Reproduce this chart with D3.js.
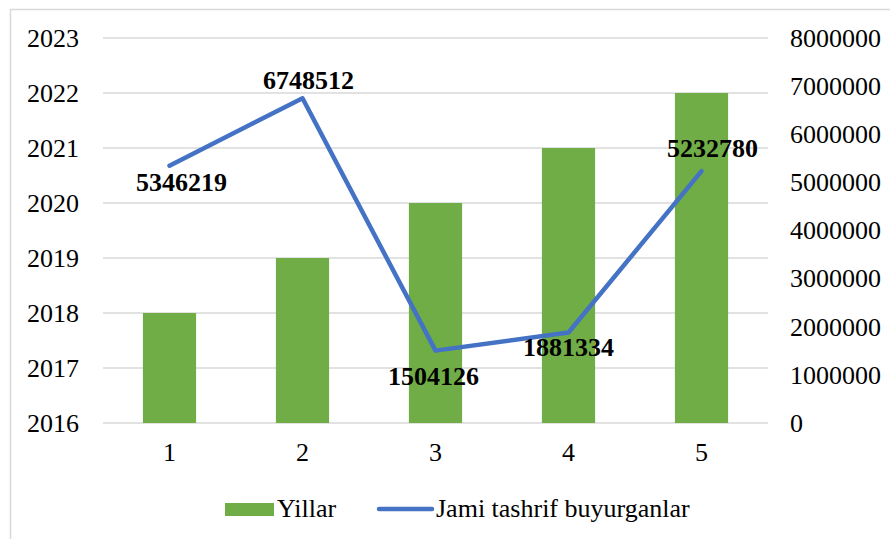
<!doctype html>
<html lang="en">
<head>
    <meta charset="UTF-8">
    <title>Yillar va tashrif buyurganlar</title>
    <script src="https://cdnjs.cloudflare.com/ajax/libs/d3/7.8.5/d3.min.js"></script>
    <style>
        body { margin: 0; background: #fff; }
        text { font-family: "Liberation Serif", "Times New Roman", serif; fill: #000; }
    </style>
</head>
<body>
<svg id="chart" width="890" height="539"></svg>

<script>
    // data
    var categories = ['1', '2', '3', '4', '5'];
    var years = [2018, 2019, 2020, 2021, 2022];
    var visitors = [5346219, 6748512, 1504126, 1881334, 5232780];
    var yearTicks = [2016, 2017, 2018, 2019, 2020, 2021, 2022, 2023];
    var visitorTicks = [0, 1000000, 2000000, 3000000, 4000000, 5000000, 6000000, 7000000, 8000000];

    // where each data label sits relative to its point [dx, dy]
    var labelOffset = [[12, 25], [6, -9], [-2, 34], [0, 24], [11, -14]];

    var svg = d3.select('#chart');

    var plotLeft = 103, plotRight = 768, plotTop = 38, plotBottom = 423;
    var fontSize = '26px';

    // outer chart frame (right and bottom edges run off the picture)
    svg.append('rect')
        .attr('x', 10.5).attr('y', 9.5)
        .attr('width', 1000).attr('height', 1000)
        .attr('fill', 'none').attr('stroke', '#d9d9d9').attr('stroke-width', 1.5);

    var x = d3.scaleBand().domain(categories).range([plotLeft, plotRight]).paddingInner(0.6).paddingOuter(0.3);
    var yL = d3.scaleLinear().domain([2016, 2023]).range([plotBottom, plotTop]);
    var yR = d3.scaleLinear().domain([0, 8000000]).range([plotBottom, plotTop]);

    // gridlines follow the left axis
    svg.append('g').selectAll('line')
        .data(yearTicks)
        .enter().append('line')
        .attr('x1', plotLeft).attr('x2', plotRight)
        .attr('y1', function (d) { return Math.round(yL(d)); })
        .attr('y2', function (d) { return Math.round(yL(d)); })
        .attr('stroke', '#d9d9d9').attr('stroke-width', 1.5);

    // left axis
    var axL = svg.append('g')
        .attr('transform', 'translate(' + plotLeft + ',0)')
        .call(d3.axisLeft(yL).tickValues(yearTicks).tickFormat(d3.format('d')).tickSize(0).tickPadding(24));
    axL.select('.domain').remove();

    // right axis
    var axR = svg.append('g')
        .attr('transform', 'translate(' + plotRight + ',0)')
        .call(d3.axisRight(yR).tickValues(visitorTicks).tickFormat(d3.format('d')).tickSize(0).tickPadding(22));
    axR.select('.domain').remove();

    // bottom axis
    var axB = svg.append('g')
        .attr('transform', 'translate(0,' + plotBottom + ')')
        .call(d3.axisBottom(x).tickSize(0).tickPadding(20));
    axB.select('.domain').remove();

    svg.selectAll('.tick text')
        .style('font-family', '"Liberation Serif", "Times New Roman", serif')
        .style('font-size', fontSize)
        .attr('fill', '#000');

    // bars rise from the 2016 baseline
    svg.append('g').selectAll('rect')
        .data(years)
        .enter().append('rect')
        .attr('x', function (d, i) { return x(categories[i]); })
        .attr('width', x.bandwidth())
        .attr('y', function (d) { return yL(d); })
        .attr('height', function (d) { return yL(2016) - yL(d); })
        .attr('fill', '#70ad47');

    // visitors line on the secondary axis
    var line = d3.line()
        .x(function (d, i) { return x(categories[i]) + x.bandwidth() / 2; })
        .y(function (d) { return yR(d); });

    svg.append('path')
        .datum(visitors)
        .attr('d', line)
        .attr('fill', 'none')
        .attr('stroke', '#4472c4')
        .attr('stroke-width', 4.5)
        .attr('stroke-linejoin', 'round')
        .attr('stroke-linecap', 'round');

    // data labels
    svg.append('g').selectAll('text')
        .data(visitors)
        .enter().append('text')
        .attr('x', function (d, i) { return x(categories[i]) + x.bandwidth() / 2 + labelOffset[i][0]; })
        .attr('y', function (d, i) { return yR(d) + labelOffset[i][1]; })
        .attr('text-anchor', 'middle')
        .style('font-size', fontSize)
        .style('font-weight', 'bold')
        .text(function (d) { return d; });

    // legend
    var legend = svg.append('g');
    legend.append('rect')
        .attr('x', 225).attr('y', 503).attr('width', 49).attr('height', 13)
        .attr('fill', '#70ad47');
    legend.append('text')
        .attr('x', 277).attr('y', 517)
        .style('font-size', fontSize)
        .text('Yillar');
    legend.append('line')
        .attr('x1', 379).attr('x2', 432).attr('y1', 509).attr('y2', 509)
        .attr('stroke', '#4472c4').attr('stroke-width', 4.5).attr('stroke-linecap', 'round');
    legend.append('text')
        .attr('x', 436).attr('y', 517)
        .style('font-size', fontSize)
        .text('Jami tashrif buyurganlar');
</script>
</body>
</html>
